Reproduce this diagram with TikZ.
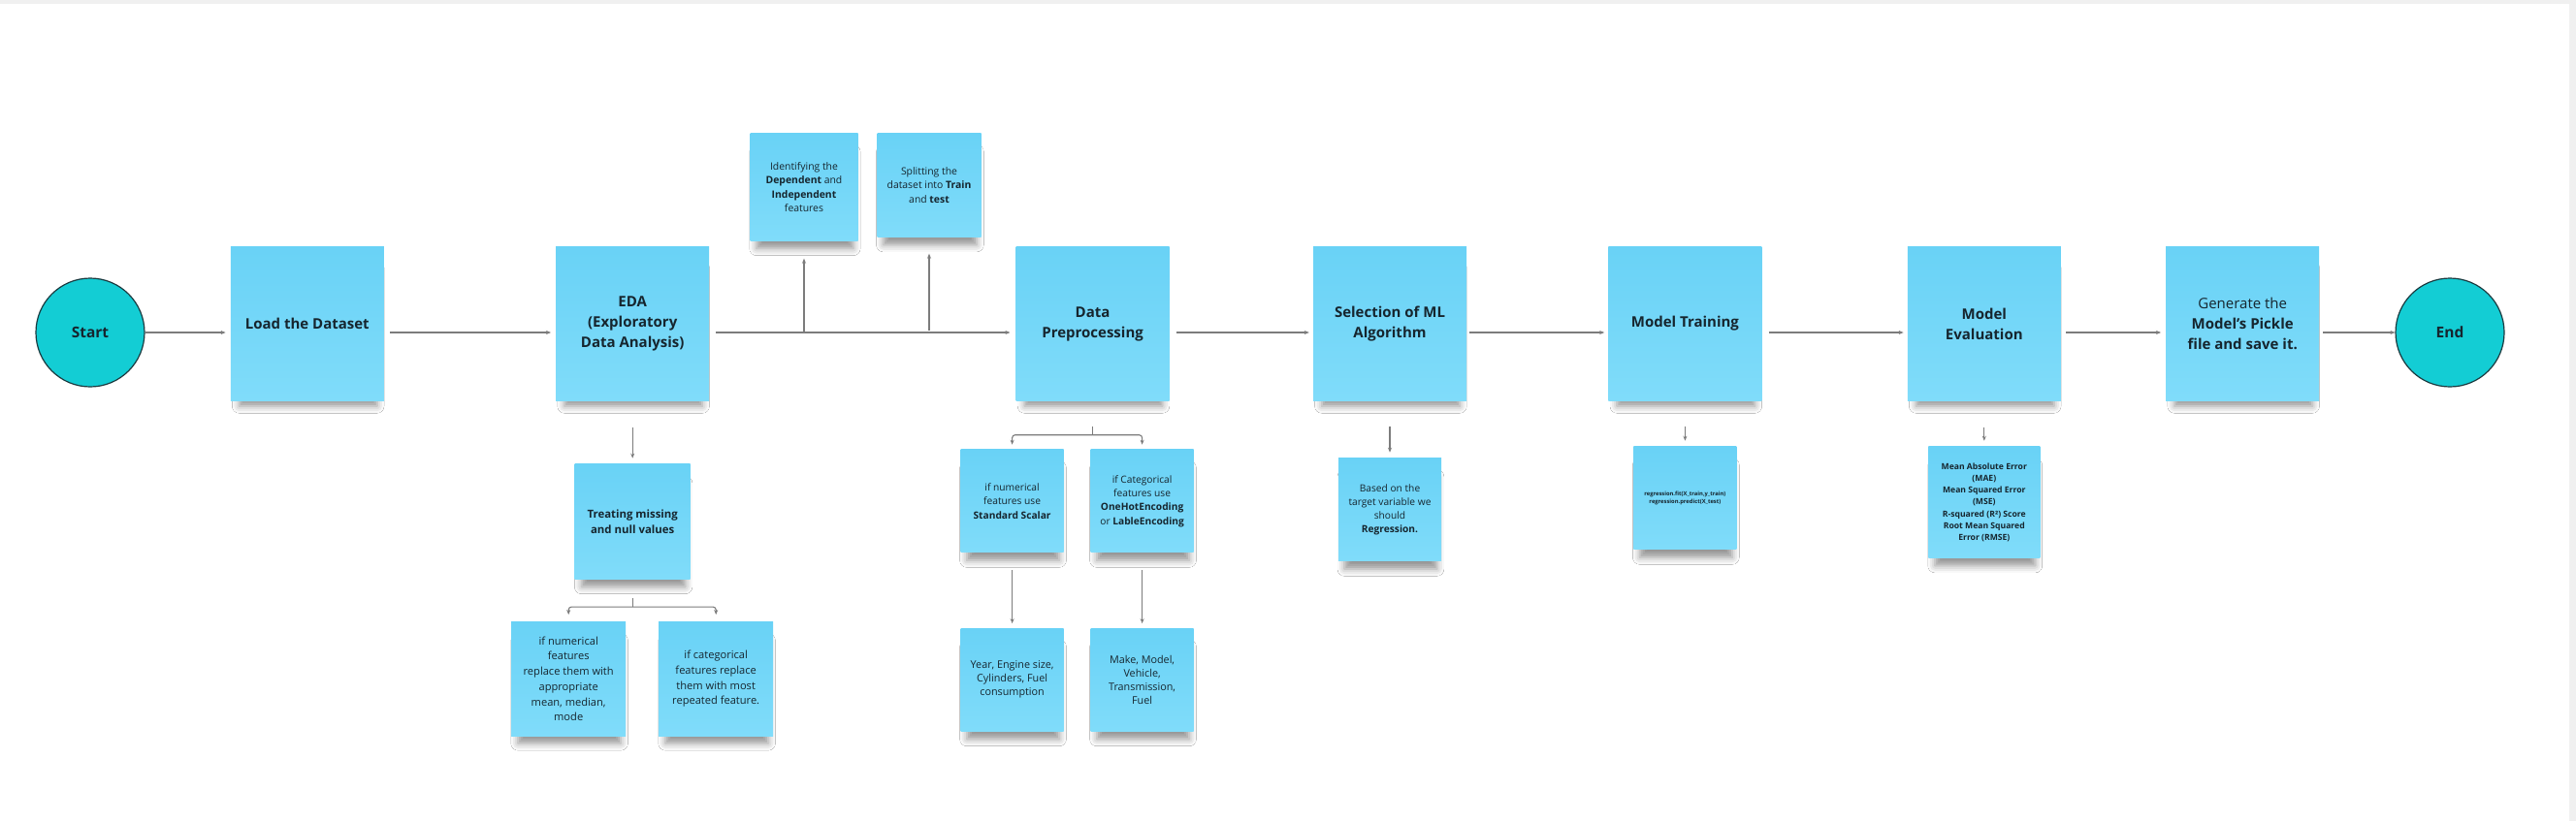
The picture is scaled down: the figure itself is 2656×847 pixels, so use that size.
\documentclass[tikz,border=0pt]{standalone}
\usepackage{fontspec}
\setmainfont{Open Sans}
\usepackage{xcolor}
\usepackage{tikz}
\usetikzlibrary{arrows.meta,positioning,calc,shadows.blur}
\definecolor{StickyTop}{HTML}{69D2F6}
\definecolor{StickyBottom}{HTML}{80DCFA}
\definecolor{TermTeal}{HTML}{13CDD4}
\definecolor{TermRing}{HTML}{1B3B40}
\definecolor{FlowGray}{HTML}{7C7C7C}
\definecolor{InkDark}{HTML}{16252E}
\definecolor{PageGray}{HTML}{F0F0F0}

\begin{document}
\begin{tikzpicture}[
  x=1pt, y=-1pt,
  sticky/.style={top color=StickyTop, bottom color=StickyBottom, minimum width=158pt, minimum height=159pt,
    inner sep=2pt, align=center, text=InkDark, font=\fontsize{15}{21}\selectfont\bfseries,
    blur shadow={shadow xshift=1pt, shadow yshift=-15pt, shadow scale=0.9, shadow blur radius=8pt, shadow opacity=42}},
  smallnote/.style={sticky, minimum width=#1, minimum height=#1, font=\fontsize{10.4}{14.4}\selectfont},
  term/.style={circle, draw=TermRing, line width=1.2pt, fill=TermTeal, minimum size=112pt, inner sep=0pt,
    text=InkDark, font=\fontsize{15.5}{18}\selectfont\bfseries},
  link/.style={draw=FlowGray, line width=1.1pt},
  flow/.style={link, -{Stealth[length=5pt,width=4pt]}}
]
\useasboundingbox (0,0) rectangle (2656,847);
\fill[PageGray] (0,0) rectangle (2656,847);
\fill[white] (0,4) rectangle (2649,847);

\node[term] (start) at (93,343) {Start};
\node[sticky, right=88pt of start, yshift=9pt] (load) {Load the Dataset};
\node[sticky, right=177pt of load] (eda) {EDA\\(Exploratory\\Data Analysis)};
\node[sticky, right=316pt of eda] (prep) {Data\\Preprocessing};
\node[sticky, right=148pt of prep] (algo) {Selection of ML\\Algorithm};
\node[sticky, right=146pt of algo] (train) {Model Training};
\node[sticky, right=150pt of train] (eval) {Model\\Evaluation};
\node[sticky, right=108pt of eval] (pickle) {{\mdseries Generate the}\\Model's Pickle\\file and save it.};
\node[term, right=78pt of pickle, yshift=-9pt] (end) {End};

\node[smallnote=111pt] (ident) at (829,193) {Identifying the\\\textbf{Dependent} and\\\textbf{Independent}\\features};
\node[smallnote=107pt] (split) at (958,191) {Splitting the\\dataset into \textbf{Train}\\and \textbf{test}};

\node[smallnote=119pt, below=65pt of eda, font=\fontsize{11.4}{15.7}\selectfont\bfseries] (treat) {Treating missing\\and null values};
\node[smallnote=118pt, below=43pt of treat, xshift=-66pt, font=\fontsize{11.1}{15.7}\selectfont] (fillnum) {if numerical\\features\\replace them with\\appropriate\\mean, median,\\mode};
\node[smallnote=118pt, below=43pt of treat, xshift=86pt, font=\fontsize{11.1}{15.7}\selectfont] (fillcat) {if categorical\\features replace\\them with most\\repeated feature.};

\node[smallnote=106pt, below=50pt of prep, xshift=-83pt, font=\fontsize{10.2}{14.3}\selectfont] (scalenum) {if numerical\\features use\\\textbf{Standard Scalar}};
\node[smallnote=106pt, below=50pt of prep, xshift=51pt, font=\fontsize{10.2}{14.3}\selectfont] (encodecat) {if Categorical\\features use\\\textbf{OneHotEncoding}\\or \textbf{LableEncoding}};
\node[smallnote=106pt, below=78pt of scalenum, font=\fontsize{10.8}{14}\selectfont] (numcols) {Year, Engine size,\\Cylinders, Fuel\\consumption};
\node[smallnote=106pt, below=78pt of encodecat, font=\fontsize{10.8}{14}\selectfont] (catcols) {Make, Model,\\Vehicle,\\Transmission,\\Fuel};

\node[smallnote=106pt, below=59pt of algo, font=\fontsize{10.2}{14}\selectfont] (based) {Based on the\\target variable we\\should\\\textbf{Regression.}};
\node[smallnote=106pt, below=47pt of train, font=\fontsize{5.8}{8.3}\selectfont\bfseries] (fitcode) {regression.fit(X\_train,y\_train)\\regression.predict(X\_test)};
\node[smallnote=115pt, below=47pt of eval, font=\fontsize{8.6}{12.2}\selectfont\bfseries] (metrics) {Mean Absolute Error\\(MAE)\\Mean Squared Error\\(MSE)\\R-squared (R²) Score\\Root Mean Squared\\Error (RMSE)};

\draw[flow, shorten >=5pt] (start) -- (start -| load.west);
\draw[flow, shorten <=6pt, shorten >=5pt] (load.east |- start) -- (eda.west |- start);
\draw[flow, shorten <=7pt, shorten >=6pt] (eda.east |- start) -- (prep.west |- start);
\draw[flow, shorten <=7pt, shorten >=4pt] (prep.east |- start) -- (algo.west |- start);
\draw[flow, shorten <=3pt, shorten >=4pt] (algo.east |- start) -- (train.west |- start);
\draw[flow, shorten <=7pt, shorten >=4pt] (train.east |- start) -- (eval.west |- start);
\draw[flow, shorten <=5pt, shorten >=5pt] (eval.east |- start) -- (pickle.west |- start);
\draw[flow, shorten <=4pt] (pickle.east |- start) -- (end);

\draw[flow, shorten >=18pt] (ident.south |- start) -- (ident.south);
\draw[flow, shorten <=2pt, shorten >=17pt] (split.south |- start) -- (split.south);

\draw[flow, shorten <=27pt, shorten >=6pt] (eda.south) -- (treat.north);
\coordinate (edafork) at ([yshift=-28pt]treat.south);
\draw[link] ([yshift=-19pt]treat.south) -- (edafork);
\draw[flow, rounded corners=3pt] (edafork) -| ([yshift=7pt]fillnum.north);
\draw[flow, rounded corners=3pt] (edafork) -| ([yshift=7pt]fillcat.north);

\coordinate (prepfork) at ([yshift=-35pt]prep.south);
\draw[link] ([yshift=-26pt]prep.south) -- (prepfork);
\draw[flow, rounded corners=3pt] (prepfork) -| ([yshift=5pt]scalenum.north);
\draw[flow, rounded corners=3pt] (prepfork) -| ([yshift=5pt]encodecat.north);
\draw[flow, shorten <=18pt, shorten >=5pt] (scalenum.south) -- (numcols.north);
\draw[flow, shorten <=18pt, shorten >=5pt] (encodecat.south) -- (catcols.north);

\draw[flow, shorten <=26pt, shorten >=6pt] (algo.south) -- (based.north);
\draw[flow, shorten <=26pt, shorten >=6pt] (train.south) -- (fitcode.north);
\draw[flow, shorten <=27pt, shorten >=6pt] (eval.south) -- (metrics.north);
\end{tikzpicture}
\end{document}
